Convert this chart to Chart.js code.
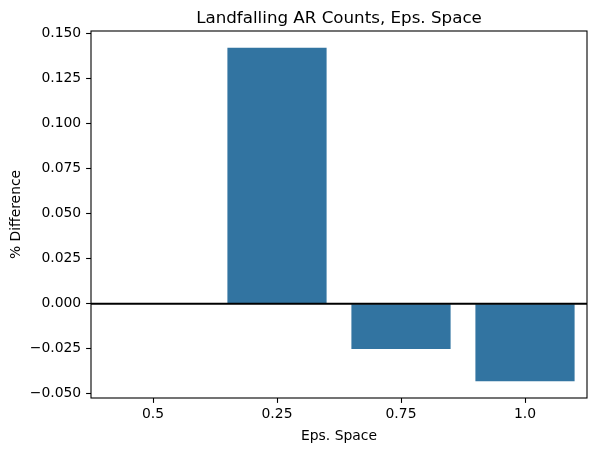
<!DOCTYPE html>
<html>
<head>
<meta charset="utf-8">
<script src="https://cdn.jsdelivr.net/npm/chart.js@4"></script>
<style>
  html, body { margin: 0; padding: 0; background: #fff; }
  #wrap { width: 596px; height: 453px; }
</style>
</head>
<body>
<div id="wrap"><canvas id="myBarChart" width="596" height="453"></canvas></div>
<script>
// values
const titleText = 'Landfalling AR Counts, Eps. Space';
const categories = ['0.5', '0.25', '0.75', '1.0'];
const pctDiff = [0.0, 0.1421, -0.0252, -0.0431];
const yTicks = [-0.050, -0.025, 0.000, 0.025, 0.050, 0.075, 0.100, 0.125, 0.150];
const yMin = -0.0524;
const yMax = 0.1514;

const fontFamily = "'DejaVu Sans', sans-serif";
const barColor = '#3274a1';

// matplotlib-ish frame: four spines, zero line and the title over the plot area
const framePlugin = {
    id: 'frame',
    afterDatasetsDraw(chart) {
        const ctx = chart.ctx;
        const area = chart.chartArea;
        const y0 = chart.scales.y.getPixelForValue(0);
        ctx.save();
        ctx.strokeStyle = '#000';
        ctx.lineWidth = 2;
        ctx.beginPath();
        ctx.moveTo(area.left, y0);
        ctx.lineTo(area.right, y0);
        ctx.stroke();
        ctx.lineWidth = 1.1;
        ctx.strokeRect(area.left, area.top, area.right - area.left, area.bottom - area.top);
        ctx.fillStyle = '#000';
        ctx.font = '16.7px ' + fontFamily;
        ctx.textAlign = 'center';
        ctx.textBaseline = 'alphabetic';
        ctx.fillText(titleText, (area.left + area.right) / 2, area.top - 8.5);
        ctx.restore();
    }
};

const ctx = document.getElementById('myBarChart');
const myBarChart = new Chart(ctx, {
    type: 'bar',
    data: {
        labels: categories,
        datasets: [{
            data: pctDiff,
            backgroundColor: barColor,
            borderWidth: 0,
            barPercentage: 0.8,
            categoryPercentage: 1.0
        }]
    },
    options: {
        responsive: false,
        animation: false,
        devicePixelRatio: 1,
        layout: {
            padding: { top: 31, right: 9, bottom: 0, left: 0 }
        },
        plugins: {
            legend: { display: false },
            title: { display: false },
            tooltip: { enabled: false }
        },
        scales: {
            x: {
                type: 'category',
                offset: true,
                afterFit(scale) { scale.height = 55; },
                grid: {
                    offset: false,
                    drawOnChartArea: false,
                    drawTicks: true,
                    tickLength: 4.9,
                    tickColor: '#000',
                    tickWidth: 1.1
                },
                border: { display: false },
                ticks: {
                    color: '#000',
                    padding: 3,
                    maxRotation: 0,
                    font: { family: fontFamily, size: 13.9 }
                },
                title: {
                    display: true,
                    text: 'Eps. Space',
                    color: '#000',
                    padding: { top: 0, bottom: 8.7 },
                    font: { family: fontFamily, size: 13.9 }
                }
            },
            y: {
                min: yMin,
                max: yMax,
                afterFit(scale) { scale.width = 91; },
                afterBuildTicks(scale) {
                    scale.ticks = yTicks.map(v => ({ value: v }));
                },
                grid: {
                    drawOnChartArea: false,
                    drawTicks: true,
                    tickLength: 4.9,
                    tickColor: '#000',
                    tickWidth: 1.1
                },
                border: { display: false },
                ticks: {
                    color: '#000',
                    padding: 4.9,
                    font: { family: fontFamily, size: 13.9 },
                    callback: v => v.toFixed(3).replace('-', '\u2212')
                },
                title: {
                    display: true,
                    text: '% Difference',
                    color: '#000',
                    padding: { top: 7.7, bottom: 0 },
                    font: { family: fontFamily, size: 13.9 }
                }
            }
        }
    },
    plugins: [framePlugin]
});
</script>
</body>
</html>
